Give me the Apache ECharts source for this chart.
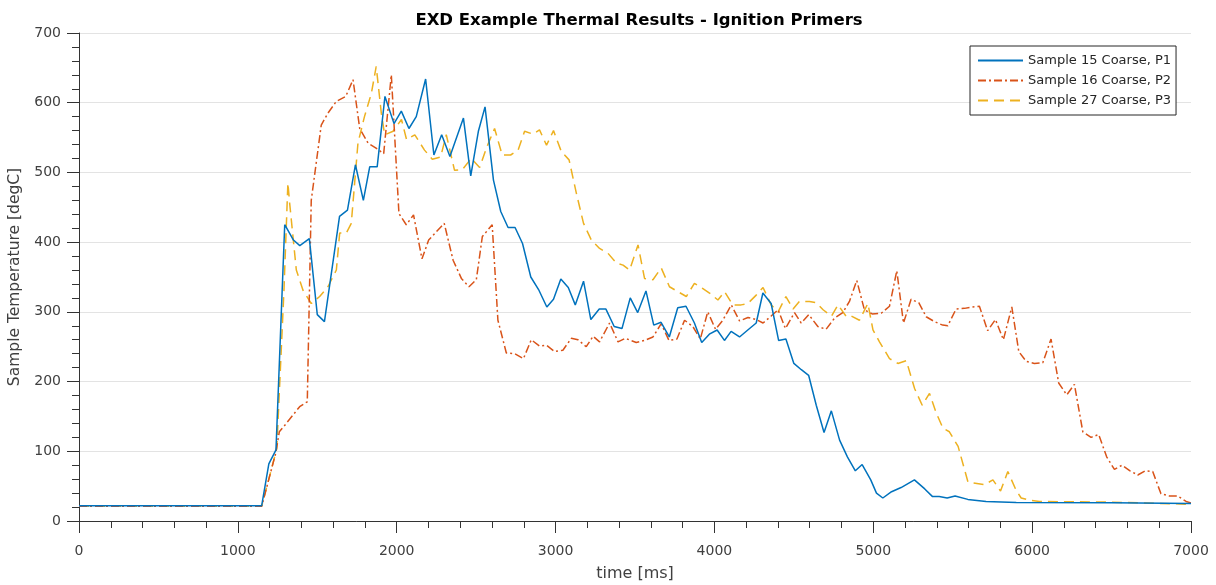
<!DOCTYPE html>
<html>
<head>
<meta charset="utf-8">
<script src="https://cdn.jsdelivr.net/npm/echarts/dist/echarts.min.js"></script>
<style>
  html, body { margin: 0; padding: 0; background: #fff; }
  #chart { width: 1216px; height: 585px; }
</style>
</head>
<body>
<div id="chart"></div>
<script>
// 图例名称
var seriesNames = ['Sample 15 Coarse, P1', 'Sample 16 Coarse, P2', 'Sample 27 Coarse, P3'];

// Sample 15 (P1) 时间 [ms] / 温度 [degC]
var p1Time = [0, 1150, 1195, 1240, 1295, 1350, 1390, 1450, 1500, 1545, 1640, 1690, 1740, 1790, 1830,
  1877, 1926, 1983, 2029, 2077, 2123, 2182, 2234, 2283, 2335, 2420, 2466, 2514, 2556, 2609, 2655,
  2701, 2745, 2792, 2844, 2893, 2945, 2987, 3033, 3080, 3124, 3176, 3222, 3275, 3317, 3369, 3418,
  3470, 3517, 3569, 3618, 3664, 3716, 3769, 3821, 3874, 3920, 3968, 4017, 4063, 4105, 4158, 4210,
  4263, 4305, 4357, 4404, 4450, 4500, 4547, 4593, 4641, 4690, 4736, 4788, 4837, 4887, 4930, 4984,
  5020, 5060, 5115, 5175, 5259, 5324, 5373, 5415, 5465, 5515, 5595, 5710, 5900, 6500, 7000];
var p1Temp = [22, 22, 82, 102, 425, 403, 395, 405, 296, 286, 437, 446, 511, 460, 508,
  508, 609, 570, 588, 563, 580, 634, 525, 554, 523, 578, 495, 559, 594, 489, 444,
  421, 421, 398, 350, 332, 307, 318, 347, 335, 310, 344, 289, 304, 304, 279, 276,
  320, 299, 330, 281, 285, 264, 306, 308, 284, 256, 268, 274, 259, 272, 264, 274,
  284, 327, 312, 259, 261, 226, 217, 209, 166, 127, 158, 116, 92, 72, 81, 59,
  40, 33, 42, 48, 59, 46, 35, 35, 33, 36, 31, 28, 26.5, 26, 25];

// Sample 16 (P2)
var p2Time = [0, 1150, 1238, 1261, 1305, 1347, 1389, 1437, 1462, 1525, 1567, 1620, 1679, 1725, 1767,
  1820, 1870, 1918, 1966, 2014, 2060, 2106, 2159, 2201, 2299, 2355, 2407, 2455, 2501, 2539, 2601,
  2637, 2690, 2742, 2798, 2847, 2899, 2943, 2994, 3046, 3099, 3141, 3193, 3236, 3277, 3340, 3393,
  3440, 3508, 3560, 3613, 3665, 3714, 3764, 3812, 3864, 3911, 3958, 4007, 4053, 4106, 4158, 4211,
  4264, 4306, 4357, 4401, 4447, 4504, 4546, 4594, 4651, 4703, 4756, 4808, 4850, 4896, 4944, 4993,
  5050, 5102, 5148, 5190, 5238, 5287, 5333, 5385, 5437, 5469, 5521, 5574, 5626, 5668, 5720, 5769,
  5819, 5872, 5916, 5962, 6014, 6067, 6119, 6167, 6218, 6266, 6319, 6371, 6419, 6469, 6518, 6566,
  6616, 6665, 6713, 6759, 6811, 6863, 6915, 6969, 7000];
var p2Temp = [21, 21, 97, 128, 140, 152, 164, 171, 460, 568, 585, 602, 609, 633, 563,
  542, 535, 527, 640, 441, 425, 439, 376, 403, 427, 374, 348, 336, 346, 408, 425,
  288, 241, 240, 233, 260, 251, 252, 243, 245, 262, 260, 250, 265, 257, 284, 257,
  262, 256, 259, 264, 283, 259, 261, 288, 279, 261, 300, 275, 288, 310, 287, 292,
  289, 284, 294, 303, 276, 299, 284, 296, 279, 275, 291, 299, 315, 345, 303, 297,
  298, 308, 359, 284, 318, 313, 293, 286, 281, 280, 304, 305, 307, 308, 273, 289,
  260, 307, 243, 229, 226, 227, 261, 198, 181, 196, 128, 120, 124, 92, 74, 80,
  72, 66, 72, 71, 39, 36, 36, 28, 26];

// Sample 27 (P3)
var p3Time = [0, 1150, 1245, 1290, 1315, 1326, 1368, 1410, 1462, 1515, 1567, 1620, 1641, 1683, 1714,
  1756, 1797, 1840, 1871, 1903, 1924, 1977, 2030, 2062, 2114, 2175, 2224, 2276, 2312, 2364, 2413,
  2469, 2522, 2568, 2616, 2664, 2717, 2764, 2805, 2858, 2899, 2943, 2987, 3036, 3085, 3131, 3176,
  3225, 3277, 3330, 3383, 3425, 3466, 3519, 3560, 3613, 3665, 3717, 3770, 3823, 3874, 3923, 3969,
  4022, 4064, 4116, 4168, 4210, 4263, 4306, 4357, 4401, 4450, 4495, 4535, 4598, 4642, 4684, 4737,
  4778, 4831, 4861, 4913, 4966, 4998, 5039, 5102, 5155, 5208, 5260, 5308, 5354, 5396, 5439, 5479,
  5534, 5596, 5700, 5753, 5801, 5847, 5899, 5931, 5983, 6046, 6500, 7000];
var p3Temp = [21, 21, 104, 330, 485, 456, 360, 331, 312, 322, 336, 360, 413, 413, 427,
  542, 580, 613, 652, 585, 554, 559, 576, 547, 554, 532, 519, 522, 554, 503, 504,
  520, 507, 537, 563, 525, 525, 532, 559, 555, 561, 539, 560, 530, 518, 470, 427,
  403, 391, 384, 370, 367, 360, 396, 348, 346, 363, 336, 329, 322, 341, 334, 327,
  317, 329, 310, 310, 312, 324, 335, 310, 300, 322, 304, 315, 315, 313, 303, 294,
  310, 293, 294, 288, 312, 274, 257, 233, 226, 230, 190, 166, 183, 155, 133, 128,
  107, 56, 52, 59, 43, 71, 44, 33, 30, 28, 27, 24];

function pairs(ts, vs) {
  return ts.map(function (t, i) { return [t, vs[i]]; });
}

var axisColor = '#333333';
var labelColor = '#404040';
var fontFam = '"DejaVu Sans", Verdana, sans-serif';

var myChart = echarts.init(document.getElementById('chart'), null, { renderer: 'canvas' });

var option = {
  animation: false,
  backgroundColor: '#ffffff',
  title: {
    text: 'EXD Example Thermal Results - Ignition Primers',
    left: 634,
    top: 7,
    textAlign: 'center',
    textStyle: { fontFamily: fontFam, fontSize: 16.5, fontWeight: 'bold', color: '#000' }
  },
  legend: {
    orient: 'vertical',
    left: 970,
    top: 46,
    padding: [8, 5, 8, 7],
    itemWidth: 45,
    itemHeight: 14,
    itemGap: 7,
    backgroundColor: '#fff',
    borderColor: '#262626',
    borderWidth: 1,
    borderRadius: 0,
    itemStyle: { opacity: 0 },
    textStyle: { fontFamily: fontFam, fontSize: 13, color: '#262626' },
    data: seriesNames
  },
  // 固定绘图区，不让标签挤压坐标区
  grid: { left: 79, right: 25, top: 33, bottom: 64, containLabel: false, outerBoundsMode: 'none' },
  xAxis: {
    type: 'value',
    min: 0, max: 7000, interval: 1000,
    name: 'time [ms]',
    nameLocation: 'middle',
    nameGap: 45,
    nameTextStyle: { fontFamily: fontFam, fontSize: 16, color: labelColor },
    axisLine: { show: true, onZero: false, lineStyle: { color: axisColor, width: 1 } },
    axisTick: { show: true, inside: false, length: 12, lineStyle: { color: axisColor } },
    minorTick: { show: true, splitNumber: 5, length: 7, lineStyle: { color: axisColor } },
    axisLabel: { margin: 23, fontFamily: fontFam, fontSize: 14, color: labelColor,
      formatter: function (v) { return String(v); } },
    splitLine: { show: false }
  },
  yAxis: {
    type: 'value',
    min: 0, max: 700, interval: 100,
    name: 'Sample Temperature [degC]',
    nameLocation: 'middle',
    nameGap: 48,
    nameTextStyle: { fontFamily: fontFam, fontSize: 15.5, color: labelColor },
    axisLine: { show: true, lineStyle: { color: axisColor, width: 1 } },
    axisTick: { show: true, inside: false, length: 12, lineStyle: { color: axisColor } },
    minorTick: { show: true, splitNumber: 5, length: 7, lineStyle: { color: axisColor } },
    axisLabel: { margin: 18, fontFamily: fontFam, fontSize: 14, color: labelColor,
      formatter: function (v) { return String(v); } },
    splitLine: { show: true, lineStyle: { color: '#e3e3e3', width: 1 } }
  },
  series: [
    {
      name: seriesNames[0], type: 'line', symbol: 'none', showSymbol: false, z: 3,
      color: '#0072BD',
      lineStyle: { color: '#0072BD', width: 1.5, type: 'solid' },
      data: pairs(p1Time, p1Temp)
    },
    {
      name: seriesNames[1], type: 'line', symbol: 'none', showSymbol: false, z: 2,
      color: '#D95319',
      lineStyle: { color: '#D95319', width: 1.5, type: [8, 3, 2, 3] },
      data: pairs(p2Time, p2Temp)
    },
    {
      name: seriesNames[2], type: 'line', symbol: 'none', showSymbol: false, z: 1,
      color: '#EDB120',
      lineStyle: { color: '#EDB120', width: 1.5, type: [10, 6] },
      data: pairs(p3Time, p3Temp)
    }
  ]
};

myChart.setOption(option);
</script>
</body>
</html>
